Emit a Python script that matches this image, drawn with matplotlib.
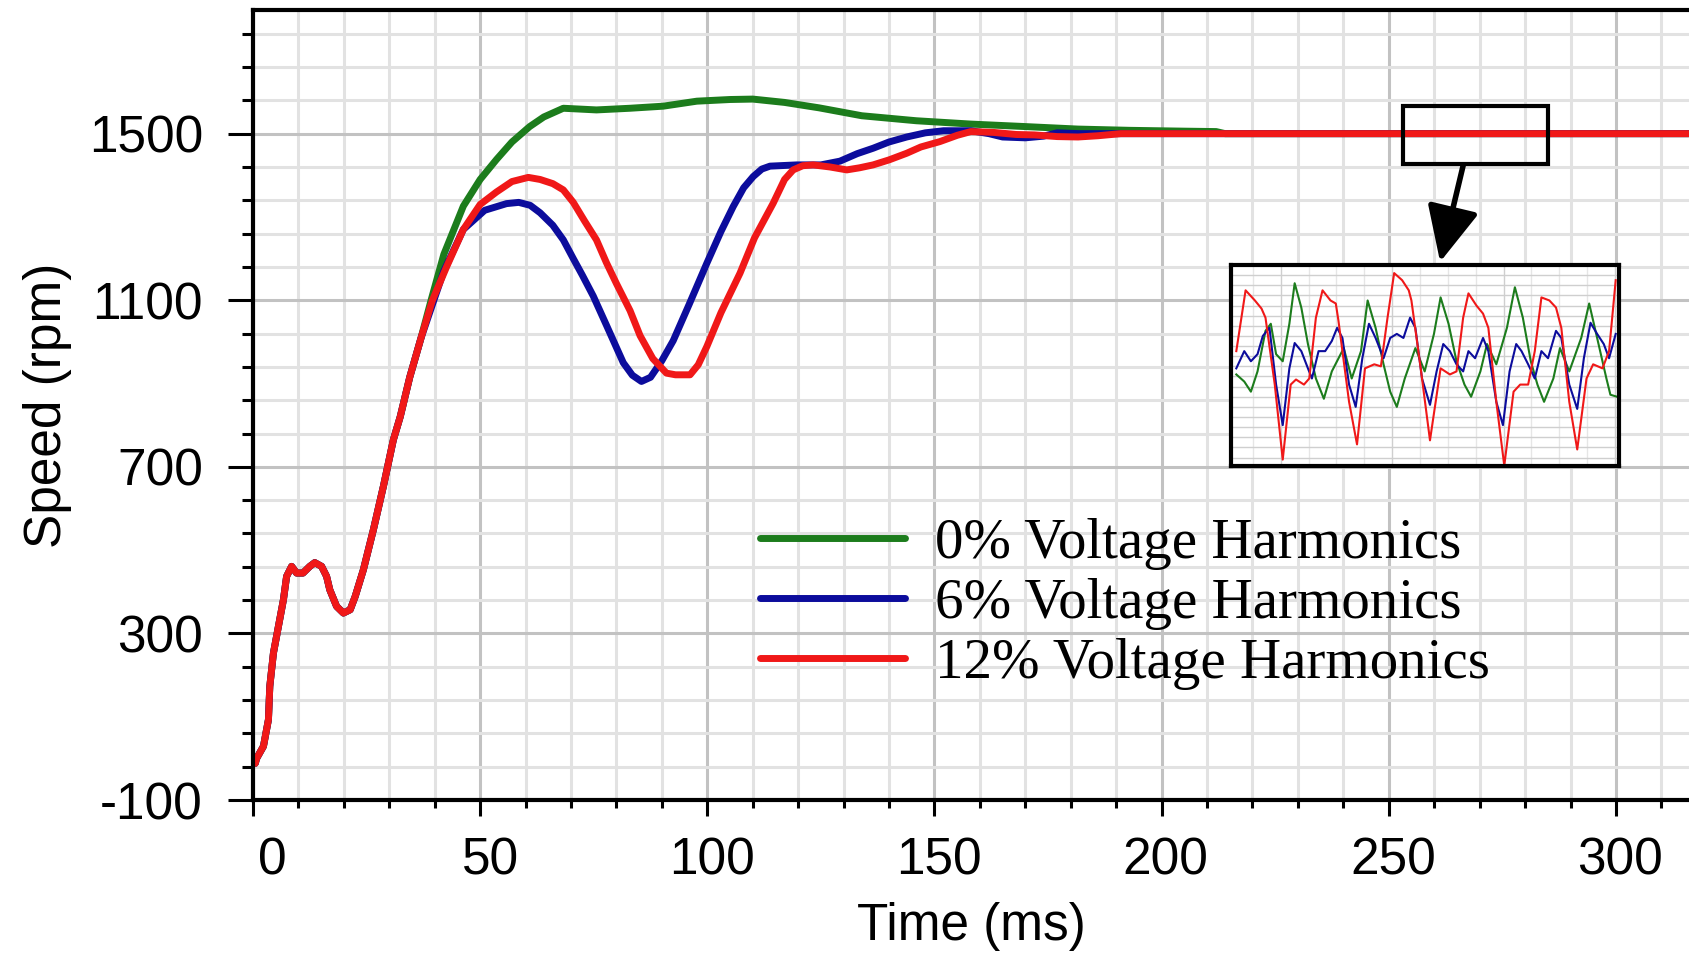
import matplotlib.pyplot as plt
import matplotlib.transforms as mtransforms
import numpy as np
from matplotlib.patches import Rectangle
from matplotlib.ticker import FixedLocator, MultipleLocator

# start-up transient, identical for all three cases
t_start = [0.5, 0.8, 2.3, 3.4, 3.7, 4.5, 5.6, 6.7, 7.4, 8.5, 9.6, 11.0, 12.5, 13.6, 15.1,
           16.2, 16.9, 18.4, 19.9, 21.4, 22.5, 24.3, 26.5, 28.7, 30.9, 32.4, 34.5, 37.0]
rpm_start = [-12, 0, 29, 93, 173, 253, 317, 381, 437, 461, 445, 445, 461, 470, 461,
             437, 405, 365, 349, 357, 389, 453, 549, 653, 765, 820, 915, 1010]

# 0 % harmonics
t_green = [39.2, 42.0, 46.3, 50.0, 53.6, 57.0, 60.9, 64.0, 68.3, 75.6, 83.0, 90.3, 97.7,
           105.0, 110.0, 117.0, 124.6, 134.0, 146.0, 158.0, 170.0, 181.6, 193.0, 205.0,
           212.0, 214.0, 316.0]
rpm_green = [1100, 1210, 1326, 1390, 1438, 1480, 1517, 1540, 1561, 1557, 1561, 1566, 1578,
             1582, 1583, 1575, 1562, 1543, 1531, 1523, 1517, 1511, 1508, 1506,
             1505, 1500, 1500]

# 6 % harmonics
t_blue = [39.5, 42.0, 46.3, 51.0, 55.8, 58.5, 61.0, 63.2, 66.0, 68.3, 70.5, 72.5, 74.9,
          77.8, 81.5, 83.5, 85.5, 87.5, 90.0, 92.5, 96.0, 99.9, 103.0, 105.7, 108.0, 110.1,
          112.0, 113.8, 119.7, 125.0, 129.2, 133.0, 136.5, 140.0, 143.9, 148.0, 152.0,
          158.0, 162.0, 165.0, 170.0, 174.0, 177.0, 182.0, 316.0]
rpm_blue = [1090, 1170, 1270, 1316, 1332, 1335, 1328, 1310, 1280, 1245, 1200, 1160, 1110,
            1040, 950, 920, 905, 915, 955, 1003, 1090, 1189, 1265, 1325, 1370, 1397,
            1415, 1422, 1425, 1425, 1434, 1452, 1465, 1480, 1492, 1502, 1507,
            1507, 1500, 1492, 1490, 1494, 1502, 1500, 1500]

# 12 % harmonics
t_red = [39.5, 42.6, 46.3, 50.0, 53.6, 57.0, 60.6, 63.2, 66.0, 68.3, 70.5, 73.0, 75.6,
         77.8, 80.0, 83.0, 85.2, 88.0, 91.0, 93.0, 96.2, 98.0, 99.9, 103.0, 107.2, 110.4,
         114.5, 117.0, 118.9, 121.0, 123.3, 127.0, 130.7, 133.5, 136.5, 140.0, 143.9,
         147.0, 151.2, 155.0, 158.0, 163.0, 168.0, 172.0, 177.0, 181.6, 186.0, 191.0, 316.0]
rpm_red = [1100, 1180, 1270, 1330, 1360, 1385, 1395, 1390, 1380, 1365, 1335, 1290, 1245,
           1190, 1140, 1075, 1015, 960, 925, 921, 921, 945, 989, 1070, 1165, 1250,
           1333, 1390, 1413, 1423, 1425, 1420, 1413, 1418, 1425, 1437, 1453,
           1468, 1481, 1496, 1505, 1503, 1498, 1497, 1493, 1492, 1495, 1500, 1500]

# zoomed steady-state ripple shown in the inset
ti_red = [255.4, 256.1, 256.8, 257.3, 257.6, 258.3, 258.9, 259.5, 259.9, 260.5, 260.9,
          261.4, 261.9, 262.5, 262.9, 263.1, 263.9, 264.5, 265.1, 265.8, 266.3, 266.8,
          267.3, 267.9, 268.4, 268.6, 269.3, 270.0, 270.8, 271.5, 272.0, 272.5, 272.9,
          273.5, 274.0, 274.4, 275.0, 275.6, 276.3, 276.8, 277.4, 277.9, 278.4, 279.0,
          279.5, 279.9, 280.5, 281.1, 281.8, 282.3, 283.0, 283.5, 284.0]
rpi_red = [1501.5, 1507.5, 1506.5, 1505.7, 1504.8, 1498.2, 1490.8, 1498.2, 1498.7, 1498.2,
           1498.8, 1504.8, 1507.5, 1506.5, 1506.2, 1504.5, 1496.5, 1492.3, 1499.8, 1500.2,
           1500.0, 1504.8, 1509.2, 1508.5, 1507.5, 1506.5, 1499.8, 1492.7, 1499.8, 1499.2,
           1499.5, 1504.8, 1507.2, 1506.0, 1505.2, 1503.8, 1496.5, 1490.2, 1497.5, 1498.2,
           1498.2, 1501.5, 1506.8, 1506.5, 1505.8, 1503.8, 1496.5, 1491.8, 1498.8, 1500.2,
           1499.8, 1501.5, 1508.5]
ti_blue = [255.4, 256.0, 256.5, 257.0, 257.4, 257.9, 258.4, 258.9, 259.4, 259.8, 260.3,
           260.8, 261.1, 261.6, 262.1, 262.6, 263.0, 263.4, 263.9, 264.4, 264.9, 265.4,
           265.9, 266.5, 267.0, 267.5, 268.0, 268.5, 268.9, 269.4, 270.0, 270.5, 271.0,
           271.5, 272.0, 272.5, 272.9, 273.4, 274.0, 274.4, 275.0, 275.5, 276.0, 276.5,
           276.9, 277.4, 277.9, 278.4, 278.9, 279.5, 279.9, 280.5, 281.1, 281.6, 282.1,
           282.6, 283.1, 283.5, 284.0]
rpi_blue = [1499.8, 1501.5, 1500.5, 1501.2, 1503.0, 1503.8, 1498.2, 1494.2, 1499.8, 1502.3,
            1501.5, 1499.8, 1498.8, 1501.5, 1501.5, 1502.5, 1503.8, 1502.8, 1498.2, 1496.0,
            1500.8, 1504.2, 1502.8, 1500.8, 1502.8, 1503.2, 1502.8, 1504.8, 1503.8, 1498.8,
            1496.2, 1499.5, 1502.2, 1501.5, 1500.2, 1499.5, 1501.5, 1500.8, 1502.8, 1501.5,
            1496.5, 1494.2, 1499.5, 1502.2, 1501.5, 1500.2, 1498.8, 1501.5, 1500.8, 1503.5,
            1502.8, 1498.2, 1495.8, 1500.8, 1504.3, 1503.2, 1502.2, 1500.8, 1503.2]
ti_green = [255.4, 256.0, 256.5, 257.0, 257.6, 258.0, 258.4, 258.9, 259.4, 259.8, 260.3,
            260.8, 261.4, 262.0, 262.6, 263.5, 264.1, 264.8, 265.3, 265.9, 266.5, 267.0,
            267.5, 268.1, 268.9, 269.6, 270.3, 270.8, 271.4, 272.0, 272.6, 273.1, 273.8,
            274.3, 275.0, 275.8, 276.4, 277.0, 277.6, 278.1, 278.6, 279.3, 279.8, 280.5,
            281.4, 282.0, 282.6, 283.3, 283.6, 284.1]
rpi_green = [1499.2, 1498.5, 1497.5, 1499.5, 1503.5, 1504.2, 1501.2, 1500.5, 1504.2, 1508.2,
             1505.8, 1502.2, 1498.8, 1496.8, 1499.5, 1501.8, 1498.8, 1501.5, 1506.5, 1503.8,
             1500.2, 1497.5, 1496.0, 1498.8, 1501.8, 1499.5, 1503.2, 1506.8, 1504.2, 1500.5,
             1498.2, 1497.0, 1499.5, 1502.2, 1500.2, 1503.8, 1507.8, 1504.8, 1500.5, 1498.2,
             1496.5, 1498.8, 1501.8, 1499.5, 1502.8, 1506.2, 1502.8, 1498.8, 1497.2, 1497.0]

labels = ['0% Voltage Harmonics', '6% Voltage Harmonics', '12% Voltage Harmonics']
colors = ['#1c7c1c', '#0c0c9c', '#f01818']

plt.rcParams['font.family'] = ['Liberation Sans', 'DejaVu Sans']
plt.rcParams['axes.unicode_minus'] = False

fig = plt.figure(figsize=(16.9, 9.58), dpi=100)
ax = fig.add_axes([0.1497, 0.1649, 0.8503, 0.8247])

series = [(t_green, rpm_green), (t_blue, rpm_blue), (t_red, rpm_red)]
for (t, rpm), color, label in zip(series, colors, labels):
    ax.plot(t_start + t, rpm_start + rpm, color=color, lw=5, label=label,
            solid_capstyle='round')

ax.set_xlim(0, 316.3)
ax.set_ylim(-100, 1797)
ax.set_xticks(np.arange(0, 301, 50))
ax.xaxis.set_minor_locator(MultipleLocator(10))
ax.set_yticks([-100, 300, 700, 1100, 1500])
ax.yaxis.set_minor_locator(FixedLocator(np.arange(-100, 1800, 80)))

ax.set_axisbelow(True)
ax.grid(which='major', color='#c2c2c2', lw=2.2)
ax.grid(which='minor', color='#e2e2e2', lw=2.2)

for side in ['left', 'bottom', 'top']:
    ax.spines[side].set_linewidth(3)
ax.spines['right'].set_visible(False)

ax.tick_params(axis='y', which='major', length=18, width=2.2, labelsize=37, pad=18)
ax.tick_params(axis='y', which='minor', length=8, width=2.2)
ax.tick_params(axis='x', which='major', length=11.5, width=2.2, labelsize=37, pad=15)
ax.tick_params(axis='x', which='minor', length=6, width=2.2)

# x labels sit a little right of their ticks in the original
for lab, dx in zip(ax.get_xticklabels(), [19, 10, 5, 4, 4, 4, 4]):
    lab.set_transform(lab.get_transform() +
                      mtransforms.ScaledTranslation(dx / 100, 0, fig.dpi_scale_trans))

ax.set_xlabel('Time (ms)', fontsize=37, labelpad=12)
ax.set_ylabel('Speed (rpm)', fontsize=37, labelpad=12)

ax.legend(loc='center left', bbox_to_anchor=(760 / 1690, (958 - 604) / 958),
          bbox_transform=fig.transFigure, frameon=False, borderpad=0, borderaxespad=0,
          handlelength=2.55, handletextpad=0.52, labelspacing=0.14,
          prop={'family': 'Liberation Serif', 'size': 41})

# zoom window and arrow
ax.add_patch(Rectangle((253.1, 1427), 32.0, 139, fill=False, lw=3, ec='black', zorder=5))
ax.annotate('', xy=(261.3, 1192), xytext=(266.4, 1425),
            arrowprops=dict(arrowstyle='-|>,head_length=1.7,head_width=0.8',
                            mutation_scale=20, lw=4, color='black',
                            shrinkA=0, shrinkB=0))

# inset with the ripple
axins = fig.add_axes([0.7284, 0.5136, 0.2296, 0.2098])
inset = [(ti_green, rpi_green), (ti_blue, rpi_blue), (ti_red, rpi_red)]
for (t, rpm), color in zip(inset, colors):
    axins.plot(t, rpm, color=color, lw=1.5)
axins.set_xlim(255, 284.25)
axins.set_ylim(1490.17, 1510)
axins.set_xticks(np.arange(258.75, 284.3, 8.4))
axins.set_xticks(np.arange(256.65, 284.3, 2.1), minor=True)
axins.yaxis.set_major_locator(MultipleLocator(1))
axins.set_axisbelow(True)
axins.grid(which='major', color='#cfcfcf', lw=1.0)
axins.grid(which='minor', axis='x', color='#e6e6e6', lw=1.0)
axins.tick_params(which='both', length=0, labelbottom=False, labelleft=False)
for s in axins.spines.values():
    s.set_linewidth(3)

fig.savefig('out.png', dpi=100)
